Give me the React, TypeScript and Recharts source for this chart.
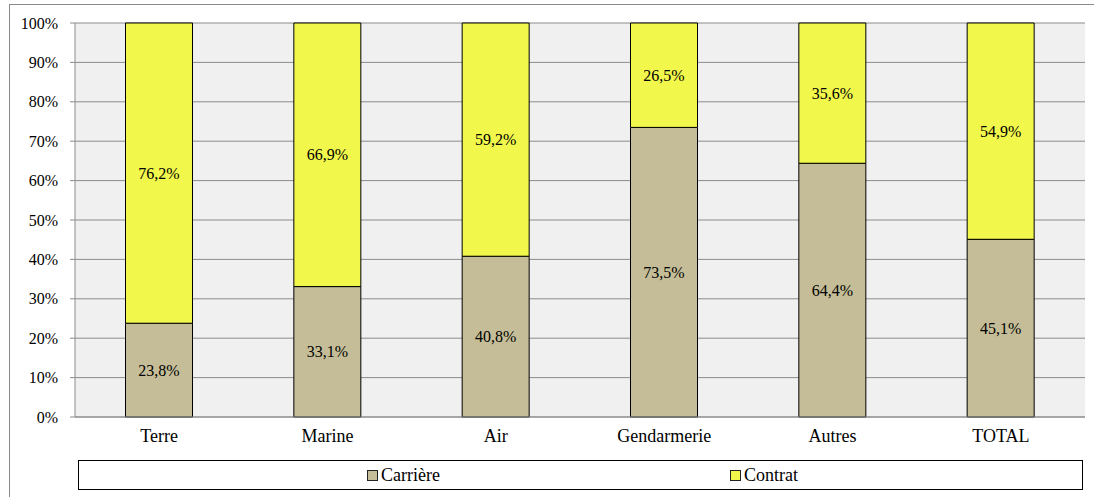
import React from 'react';
import { BarChart, Bar, XAxis, YAxis, CartesianGrid, LabelList } from 'recharts';

const categories = ['Terre', 'Marine', 'Air', 'Gendarmerie', 'Autres', 'TOTAL'];
const carriere = [23.8, 33.1, 40.8, 73.5, 64.4, 45.1];
const contrat = [76.2, 66.9, 59.2, 26.5, 35.6, 54.9];
const yTicks = [0, 10, 20, 30, 40, 50, 60, 70, 80, 90, 100];
const boundaryTicks = [0, 1, 2, 3, 4, 5, 6];

const FONT = "'Liberation Serif', 'DejaVu Serif', serif";
const CARRIERE_COLOR = '#C4BD97';
const CONTRAT_COLOR = '#F2F74C';

const data = categories.map((name, i) => ({
  name,
  carriere: carriere[i],
  contrat: contrat[i],
}));

const fmt = (v: any) => `${Number(v).toFixed(1).replace('.', ',')}%`;

const LegendItem = ({ color, label, left }: { color: string; label: string; left: number }) => (
  <div style={{ position: 'absolute', left, top: 0, height: 28, display: 'flex', alignItems: 'center' }}>
    <span
      style={{
        display: 'inline-block',
        width: 9,
        height: 9,
        background: color,
        border: '1px solid #222',
        marginRight: 3,
      }}
    />
    <span style={{ fontSize: 18, color: '#000' }}>{label}</span>
  </div>
);

export default function App() {
  return (
    <div
      style={{
        position: 'absolute',
        left: 0,
        top: 0,
        width: 1094,
        height: 497,
        background: '#fff',
        fontFamily: FONT,
        overflow: 'hidden',
      }}
    >
      {/* outer frame (cut off on right and bottom) */}
      <div
        style={{
          position: 'absolute',
          left: 9,
          top: 4,
          width: 1100,
          height: 500,
          borderTop: '1px solid #8a8a8a',
          borderLeft: '1px solid #8a8a8a',
        }}
      />
      <BarChart
        width={1094}
        height={497}
        data={data}
        margin={{ top: 23, right: 9, left: 0, bottom: 50 }}
        barCategoryGap="30%"
        style={{ position: 'absolute', left: 0, top: 0, fontFamily: FONT }}
      >
        <CartesianGrid vertical={false} stroke="#8c8c8c" fill="#F0F0F0" />
        <XAxis
          xAxisId="b"
          type="number"
          dataKey={() => 0}
          domain={[0, 6]}
          ticks={boundaryTicks}
          tick={false}
          axisLine={false}
          tickSize={5}
          height={0}
          stroke="#8c8c8c"
        />
        <XAxis
          dataKey="name"
          height={30}
          tickLine={false}
          tickSize={0}
          tickMargin={12}
          stroke="#8c8c8c"
          tick={{ fill: '#000', fontSize: 18, fontFamily: FONT }}
        />
        <YAxis
          width={75}
          domain={[0, 100]}
          ticks={yTicks}
          tickSize={5}
          tickMargin={12}
          stroke="#8c8c8c"
          tickFormatter={(v) => `${v}%`}
          tick={{ fill: '#000', fontSize: 16, fontFamily: FONT }}
        />
        <Bar dataKey="carriere" stackId="a" fill={CARRIERE_COLOR} stroke="#000" strokeWidth={1} isAnimationActive={false}>
          <LabelList dataKey="carriere" position="center" formatter={fmt} fill="#000" fontSize={16} fontFamily={FONT} />
        </Bar>
        <Bar dataKey="contrat" stackId="a" fill={CONTRAT_COLOR} stroke="#000" strokeWidth={1} isAnimationActive={false}>
          <LabelList dataKey="contrat" position="center" formatter={fmt} fill="#000" fontSize={16} fontFamily={FONT} />
        </Bar>
      </BarChart>
      {/* legend box */}
      <div
        style={{
          position: 'absolute',
          left: 78,
          top: 460,
          width: 1003,
          height: 28,
          border: '1px solid #000',
        }}
      >
        <LegendItem color={CARRIERE_COLOR} label="Carrière" left={288} />
        <LegendItem color={CONTRAT_COLOR} label="Contrat" left={651} />
      </div>
    </div>
  );
}
